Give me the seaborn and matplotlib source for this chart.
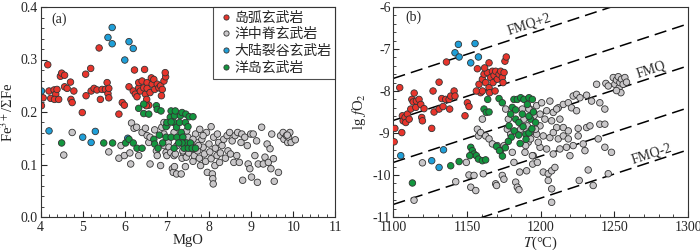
import numpy as np
import pandas as pd
import matplotlib
matplotlib.use('Agg')
import matplotlib.pyplot as plt
from matplotlib.ticker import MultipleLocator
import seaborn as sns

# ---- groups ----
groups = ['岛弧玄武岩', '洋中脊玄武岩', '大陆裂谷玄武岩', '洋岛玄武岩']
colors = {'岛弧玄武岩': '#e8352c', '洋中脊玄武岩': '#c9c7c9',
          '大陆裂谷玄武岩': '#1f9fd8', '洋岛玄武岩': '#13963f'}

# ---- panel (a): MgO vs Fe3+/SumFe ----
a_red_x = [4.02, 4.06, 4.17, 4.20, 4.24, 4.32, 4.36, 4.33, 4.39, 4.43, 4.47, 4.50, 4.57, 4.57, 4.63,
           4.71, 4.72, 4.75, 4.79, 4.99, 5.07, 5.08, 5.19, 5.20, 5.27, 5.34, 5.39, 5.42, 5.46, 5.54,
           5.58, 5.60, 5.62, 5.62, 5.86, 5.94, 5.99, 6.10, 6.20, 6.23, 6.25, 6.29, 6.33, 6.33, 6.37,
           6.41, 6.45, 6.47, 6.49, 6.52, 6.53, 6.53, 6.57, 6.60, 6.63, 6.65, 6.69, 6.71, 6.77, 6.81,
           6.85, 6.89, 6.87, 6.93, 6.97, 6.96, 6.51]
a_red_y = [0.212, 0.227, 0.290, 0.240, 0.226, 0.242, 0.234, 0.224, 0.243, 0.224, 0.268, 0.274, 0.270,
           0.248, 0.245, 0.257, 0.224, 0.218, 0.240, 0.199, 0.272, 0.231, 0.283, 0.240, 0.245, 0.242,
           0.322, 0.224, 0.243, 0.243, 0.256, 0.235, 0.245, 0.227, 0.196, 0.218, 0.213, 0.248, 0.240,
           0.280, 0.234, 0.229, 0.246, 0.256, 0.240, 0.259, 0.246, 0.281, 0.234, 0.224, 0.256, 0.245,
           0.213, 0.237, 0.265, 0.253, 0.262, 0.243, 0.253, 0.246, 0.250, 0.243, 0.231, 0.259, 0.267,
           0.275, 0.212]
a_blue_x = [4.02, 4.20, 5.00, 5.20, 5.30, 5.60, 5.70, 5.70, 6.00, 6.10, 6.20, 6.07]
a_blue_y = [0.240, 0.164, 0.152, 0.142, 0.163, 0.342, 0.361, 0.330, 0.299, 0.334, 0.321, 0.150]
a_green_x = [4.50, 5.50, 5.71, 6.02, 6.10, 6.20, 6.29, 6.41, 6.33, 6.45, 6.45, 6.57, 6.69, 6.71, 6.75,
             6.79, 6.77, 6.86, 6.90, 6.98, 6.98, 7.00, 7.08, 7.10, 7.10, 7.17, 7.18, 7.20, 7.23, 7.24,
             7.30, 7.32, 7.34, 7.36, 7.38, 7.39, 7.41, 7.44, 7.45, 7.47, 7.50, 7.51, 7.53, 7.56, 7.60,
             7.62, 7.68, 7.10, 7.36, 7.28, 7.17, 6.82]
a_green_y = [0.141, 0.141, 0.141, 0.141, 0.148, 0.141, 0.131, 0.131, 0.207, 0.215, 0.197, 0.196, 0.148,
             0.139, 0.212, 0.131, 0.205, 0.202, 0.141, 0.152, 0.172, 0.180, 0.190, 0.202, 0.152, 0.180,
             0.193, 0.202, 0.171, 0.152, 0.180, 0.193, 0.161, 0.199, 0.152, 0.141, 0.131, 0.180, 0.196,
             0.141, 0.172, 0.131, 0.191, 0.141, 0.131, 0.191, 0.131, 0.181, 0.141, 0.141, 0.131, 0.156]
a_grey_x = [4.55, 4.75, 5.62, 5.86, 5.91, 5.99, 6.12, 6.14, 6.16, 6.22, 6.28, 6.33, 6.41, 6.49, 6.53,
            6.57, 6.60, 6.71, 6.75, 6.85, 6.88, 6.93, 6.94, 6.98, 7.00, 7.03, 7.05, 7.09, 7.13, 7.15,
            7.17, 7.18, 7.20, 7.23, 7.24, 7.34, 7.36, 7.39, 7.44, 7.46, 7.50, 7.52, 7.56, 7.60, 7.62,
            7.65, 7.68, 7.72, 7.73, 7.77, 7.80, 7.83, 7.86, 7.89, 7.92, 7.94, 7.96, 8.00, 8.02, 8.05,
            8.05, 8.08, 8.09, 8.10, 8.11, 8.14, 8.15, 8.19, 8.20, 8.23, 8.25, 8.27, 8.31, 8.35, 8.39,
            8.43, 8.45, 8.49, 8.51, 8.55, 8.59, 8.62, 8.66, 8.68, 8.72, 8.76, 8.78, 8.80, 8.85, 8.91,
            8.93, 8.97, 8.99, 9.01, 9.05, 9.09, 9.13, 9.15, 9.17, 9.25, 9.29, 9.33, 9.38, 9.41, 9.45,
            9.47, 9.49, 9.53, 9.55, 9.65, 9.70, 9.76, 9.78, 9.84, 9.87, 9.89, 9.92, 9.95, 10.05, 9.86,
            6.93, 7.00, 7.17, 7.32, 7.47, 7.62, 7.78, 7.86, 6.60, 6.77, 7.38, 7.75]
a_grey_y = [0.118, 0.161, 0.124, 0.112, 0.136, 0.117, 0.122, 0.101, 0.179, 0.169, 0.171, 0.117, 0.161,
            0.169, 0.155, 0.142, 0.101, 0.166, 0.126, 0.098, 0.171, 0.158, 0.136, 0.123, 0.117, 0.142,
            0.133, 0.123, 0.092, 0.085, 0.117, 0.096, 0.120, 0.082, 0.136, 0.082, 0.112, 0.123, 0.096,
            0.114, 0.152, 0.122, 0.136, 0.130, 0.106, 0.117, 0.158, 0.142, 0.126, 0.112, 0.098, 0.148,
            0.133, 0.120, 0.106, 0.161, 0.085, 0.139, 0.124, 0.172, 0.111, 0.082, 0.073, 0.063, 0.152,
            0.098, 0.131, 0.117, 0.158, 0.142, 0.104, 0.122, 0.136, 0.148, 0.112, 0.155, 0.126, 0.161,
            0.120, 0.145, 0.104, 0.155, 0.117, 0.161, 0.104, 0.142, 0.158, 0.070, 0.152, 0.136, 0.101,
            0.092, 0.158, 0.076, 0.158, 0.117, 0.145, 0.066, 0.101, 0.171, 0.101, 0.114, 0.139, 0.104,
            0.130, 0.092, 0.158, 0.111, 0.068, 0.085, 0.155, 0.161, 0.148, 0.155, 0.142, 0.152, 0.161,
            0.142, 0.147, 0.156, 0.180, 0.174, 0.161, 0.148, 0.164, 0.148, 0.167, 0.155, 0.152, 0.117,
            0.126, 0.136]

# ---- panel (b): T vs lg fO2 ----
b_red_x = [1100.5, 1101, 1105.7, 1104.3, 1106.1, 1106.6, 1107.9, 1108.4, 1109.5, 1110.7, 1111.8, 1112.5,
           1113.4, 1114.1, 1115.2, 1115.6, 1117.4, 1118.6, 1119.2, 1119.7, 1120.8, 1126.0, 1126.9,
           1127.6, 1131.0, 1131.0, 1132.8, 1133.7, 1135.5, 1136.0, 1137.8, 1138.2, 1138.9, 1141.2,
           1141.8, 1148.6, 1150.2, 1151.3, 1157.0, 1158.1, 1159.2, 1160.4, 1161.5, 1162.6, 1163.8,
           1164.9, 1164.9, 1165.3, 1166.0, 1167.2, 1167.6, 1168.3, 1169.0, 1169.4, 1170.5, 1171.7,
           1172.8, 1173.9, 1175.1, 1175.7, 1176.6, 1174.4, 1161.9, 1156.3, 1160.4]
b_red_y = [-9.21, -8.89, -8.99, -7.92, -8.59, -8.71, -8.63, -8.75, -8.55, -8.67, -8.43, -8.20, -8.26,
           -8.05, -8.39, -8.24, -8.20, -8.32, -8.63, -8.71, -8.42, -8.89, -8.00, -8.50, -7.79, -8.43,
           -8.18, -8.37, -8.20, -7.31, -8.20, -8.43, -8.12, -8.00, -8.12, -8.59, -8.28, -8.37, -7.47,
           -7.84, -8.04, -7.72, -7.60, -7.80, -7.56, -7.33, -7.92, -8.04, -7.68, -7.53, -7.80, -7.63,
           -8.00, -7.53, -7.72, -7.60, -7.53, -7.68, -7.56, -7.29, -7.19, -7.80, -7.45, -8.00, -8.00]
b_blue_x = [1105, 1126, 1131, 1134, 1141.8, 1144.1, 1144.6, 1152.5, 1155.4, 1157.7]
b_blue_y = [-9.54, -9.66, -9.82, -9.40, -7.09, -6.89, -7.19, -7.33, -6.87, -7.19]
b_green_x = [1112.9, 1138.9, 1144.6, 1152.5, 1153.6, 1154.7, 1156.3, 1157.7, 1151.8, 1160.4, 1162.6,
             1161.5, 1163.0, 1164.0, 1164.9, 1171.7, 1173.9, 1178.5, 1179.6, 1180.7, 1181.8, 1183.0,
             1184.1, 1185.2, 1186.4, 1187.5, 1188.6, 1189.8, 1190.9, 1192.0, 1193.1, 1194.3, 1196.5,
             1172.8, 1170, 1172, 1174, 1176, 1182, 1185, 1188, 1190, 1192, 1194, 1186, 1180, 1192,
             1195, 1178, 1183]
b_green_y = [-10.19, -9.78, -9.68, -9.34, -9.42, -9.50, -9.54, -9.62, -9.54, -9.66, -9.64, -8.43, -8.51,
             -8.20, -8.50, -8.18, -8.28, -8.83, -8.55, -8.39, -8.20, -8.67, -8.20, -8.75, -8.16, -8.55,
             -8.20, -9.03, -8.32, -8.16, -8.67, -8.20, -8.75, -9.42, -9.32, -9.42, -9.55, -9.35, -8.95,
             -9.05, -8.85, -9.15, -9.00, -8.90, -9.25, -9.10, -8.60, -8.50, -9.20, -8.45]
b_grey_x = [1237.9, 1244.2, 1245.8, 1249.2, 1250.3, 1251.4, 1252.6, 1253.2, 1253.7, 1254.4, 1254.8,
            1255.9, 1257.1, 1258.2, 1251.4, 1222.0, 1224.3, 1226.6, 1231.1, 1234.5, 1240.1, 1243.5,
            1206.2, 1211.9, 1215.3, 1218.7, 1220.9, 1224.3, 1208.5, 1204.0, 1199.5, 1194.9, 1192.7,
            1202.8, 1207.4, 1213.0, 1210.8, 1215.3, 1218.7, 1225.4, 1231.1, 1233.4, 1240.1, 1243.5,
            1239.0, 1243.5, 1248.0, 1228.8, 1230.0, 1222.0, 1217.5, 1219.8, 1213.0, 1208.5, 1204.0,
            1199.5, 1194.9, 1189.3, 1194.5, 1201.7, 1205.1, 1207.4, 1209.6, 1190.4, 1232.2, 1245.8,
            1226.1, 1235.6, 1207.4, 1207.4, 1205.1, 1199.5, 1197.2, 1198.3, 1201.7, 1206.2, 1208.5,
            1211.9, 1215.3, 1218.7, 1225.4, 1192.7, 1191.5, 1193.8, 1197.2, 1200.6, 1210.8,
            1114.0, 1119.7, 1142.3, 1149.5, 1151.3, 1152.5, 1155.9, 1154.7, 1157.0, 1157.7, 1159.2,
            1162.6, 1164.9, 1167.2, 1169.4, 1170.5, 1173.9, 1175.1, 1176.2, 1177.3, 1178.0, 1179.6,
            1180.7, 1181.8, 1183.0, 1184.1, 1185.2, 1185.7, 1186.4, 1187.5, 1188.6, 1189.8, 1190.9,
            1192.0, 1193.1, 1194.3, 1195.4, 1196.5, 1197.7, 1160.4, 1161.0, 1170.0, 1175.0]
b_grey_y = [-7.84, -7.82, -7.88, -7.68, -7.84, -7.74, -7.66, -7.92, -7.80, -8.04, -7.72, -7.84, -7.68,
            -7.79, -7.99, -8.12, -8.08, -8.16, -8.10, -8.24, -8.28, -8.43, -8.24, -8.40, -8.32, -8.28,
            -8.40, -8.47, -8.51, -8.47, -8.55, -8.51, -8.43, -8.67, -8.71, -8.67, -8.87, -8.87, -8.95,
            -8.89, -8.87, -8.83, -8.79, -8.79, -9.14, -9.34, -9.46, -9.26, -9.42, -9.30, -9.34, -9.54,
            -9.38, -9.50, -9.38, -9.34, -9.54, -9.46, -9.74, -9.93, -9.97, -9.90, -9.82, -9.90, -9.88,
            -9.97, -10.13, -10.25, -10.33, -10.65, -10.13, -8.83, -9.03, -9.22, -9.07, -9.11, -8.99,
            -9.14, -9.07, -9.14, -9.07, -8.99, -9.22, -8.63, -8.35, -8.28, -8.43,
            -10.60, -9.71, -10.16, -9.70, -10.00, -10.29, -10.37, -10.01, -8.91, -9.07, -8.99, -9.07,
            -9.14, -9.26, -10.21, -9.30, -10.01, -9.30, -8.43, -8.91, -8.67, -9.03, -9.46, -9.70,
            -10.17, -10.29, -10.35, -9.93, -8.91, -8.43, -8.67, -9.30, -8.83, -8.43, -9.14, -9.54,
            -8.59, -8.91, -9.70, -8.67, -9.97, -10.25, -10.10]

# FMQ buffer reference lines: FMQ at 1100 and 1300 C, plus offsets
fmq_T = [1100, 1300]
fmq_logfo2 = [-9.7, -7.4]
fmq_offsets = [2, 1, 0, -1, -2]


def make_df(xs, ys):
    rows = []
    # draw order: MORB first, then arc, rift, OIB on top
    for g, key in [('洋中脊玄武岩', 'grey'), ('岛弧玄武岩', 'red'),
                   ('大陆裂谷玄武岩', 'blue'), ('洋岛玄武岩', 'green')]:
        for x, y in zip(xs[key], ys[key]):
            rows.append({'x': x, 'y': y, 'type': g})
    return pd.DataFrame(rows)


df_a = make_df({'grey': a_grey_x, 'red': a_red_x, 'blue': a_blue_x, 'green': a_green_x},
               {'grey': a_grey_y, 'red': a_red_y, 'blue': a_blue_y, 'green': a_green_y})
df_b = make_df({'grey': b_grey_x, 'red': b_red_x, 'blue': b_blue_x, 'green': b_green_x},
               {'grey': b_grey_y, 'red': b_red_y, 'blue': b_blue_y, 'green': b_green_y})

sns.set_style('ticks')
plt.rcParams['font.family'] = ['Liberation Serif', 'Noto Sans CJK SC', 'DejaVu Sans']
plt.rcParams['mathtext.fontset'] = 'stix'
plt.rcParams['axes.unicode_minus'] = False
plt.rcParams['font.size'] = 10

fig = plt.figure(figsize=(7, 2.5), dpi=100)
ax1 = fig.add_axes([0.058, 0.132, 0.421, 0.840])
ax2 = fig.add_axes([0.562, 0.132, 0.421, 0.840])

pt = dict(s=22, edgecolor='#333333', linewidth=0.6, palette=colors, hue_order=groups)

sns.scatterplot(data=df_a, x='x', y='y', hue='type', ax=ax1, legend=True, **pt)
sns.scatterplot(data=df_b, x='x', y='y', hue='type', ax=ax2, legend=False, zorder=3, **pt)

for off in fmq_offsets:
    ax2.plot(fmq_T, [v + off for v in fmq_logfo2], color='black', lw=1.1,
             linestyle=(0, (8, 4)), zorder=1)

ax2.text(1192, -6.42, 'FMQ+2', rotation=18, ha='center', va='center', fontsize=10)
ax2.text(1275, -7.49, 'FMQ', rotation=18, ha='center', va='center', fontsize=10)
ax2.text(1275, -9.50, 'FMQ-2', rotation=18, ha='center', va='center', fontsize=10)

ax1.set_xlim(4, 11)
ax1.set_ylim(0, 0.4)
ax1.xaxis.set_major_locator(MultipleLocator(1))
ax1.xaxis.set_minor_locator(MultipleLocator(0.2))
ax1.yaxis.set_minor_locator(MultipleLocator(0.02))
ax1.set_yticks([0, 0.1, 0.2, 0.3, 0.4], ['0.0', '0.1', '0.2', '0.3', '0.4'])
ax1.set_xlabel('MgO', fontsize=10.5, labelpad=0)
ax1.set_ylabel(r'Fe$^{3+}$/ΣFe', fontsize=10.5, labelpad=3)
ax1.text(4.25, 0.377, '(a)', fontsize=10, va='center')

ax2.set_xlim(1100, 1300)
ax2.set_ylim(-11, -6)
ax2.xaxis.set_major_locator(MultipleLocator(50))
ax2.xaxis.set_minor_locator(MultipleLocator(10))
ax2.yaxis.set_major_locator(MultipleLocator(1))
ax2.yaxis.set_minor_locator(MultipleLocator(0.2))
ax2.set_xlabel(r'$T$(°C)', fontsize=10.5, labelpad=0)
ax2.set_ylabel(r'lg $f$O$_2$', fontsize=10.5, labelpad=3)
ax2.text(1108, -6.24, '(b)', fontsize=10, va='center')

for ax in (ax1, ax2):
    ax.tick_params(which='major', direction='in', length=4, width=0.8, labelsize=10, pad=2)
    ax.tick_params(axis='x', which='major', pad=3)
    ax.tick_params(which='minor', direction='in', length=2, width=0.6)
    for sp in ax.spines.values():
        sp.set_linewidth(0.8)
        sp.set_color('#333333')

leg = ax1.legend(loc='upper right', borderaxespad=0, frameon=True, fancybox=False,
                 edgecolor='#222222', fontsize=10, handletextpad=0.0, borderpad=0.3,
                 labelspacing=0.25, markerscale=0.8, handlelength=1.2)
leg.get_frame().set_linewidth(0.8)
leg.set_title(None)

fig.savefig('out.png', dpi=100)
